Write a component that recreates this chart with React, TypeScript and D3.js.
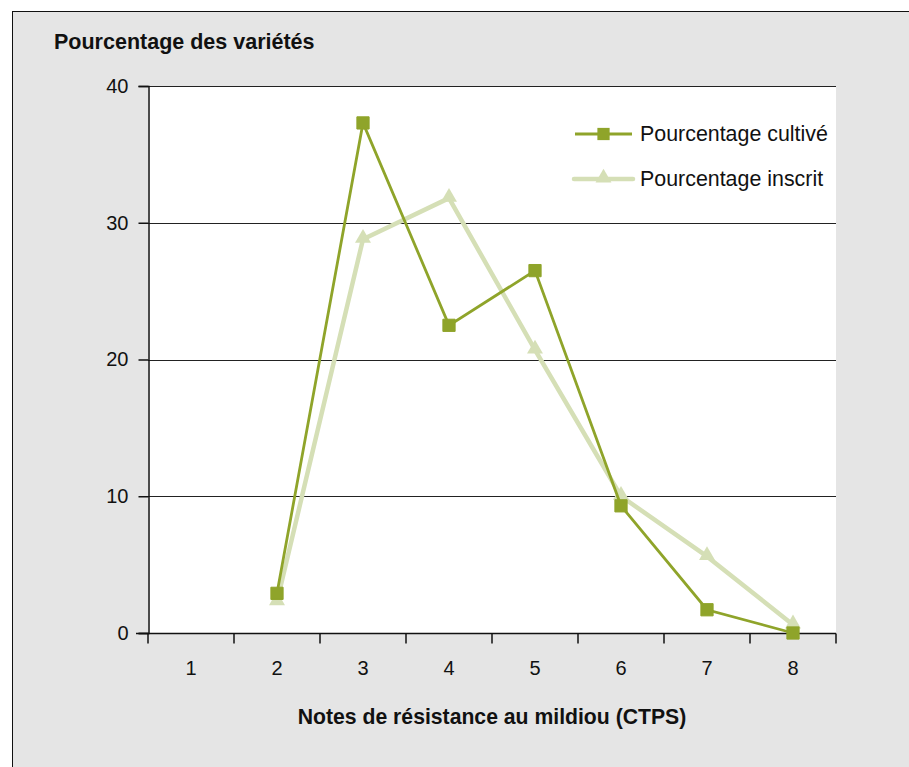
import { useEffect, useRef } from 'react'
import * as d3 from 'd3'

const categories = ['1', '2', '3', '4', '5', '6', '7', '8']
const cultive: (number | null)[] = [null, 2.9, 37.3, 22.5, 26.5, 9.3, 1.7, 0]
const inscrit: (number | null)[] = [null, 2.3, 28.8, 31.8, 20.7, 10.0, 5.6, 0.6]
const yTicks = [0, 10, 20, 30, 40]
const seriesNames = ['Pourcentage cultivé', 'Pourcentage inscrit']

const WIDTH = 909
const HEIGHT = 767
const FONT = '"Liberation Sans", Arial, Helvetica, sans-serif'
const DARK = '#8fa42a'
const LIGHT = '#d5dfb6'

export default function App() {
  const svgRef = useRef<SVGSVGElement>(null)

  useEffect(() => {
    if (!svgRef.current) return
    const svg = d3.select(svgRef.current)
    svg.selectAll('*').remove()

    const plot = { left: 148, right: 836, top: 86, bottom: 633 }

    // outer frame
    svg.append('rect')
      .attr('x', 12.5).attr('y', 11.5)
      .attr('width', WIDTH).attr('height', HEIGHT)
      .attr('fill', '#e5e5e5').attr('stroke', '#111').attr('stroke-width', 1)

    svg.append('rect')
      .attr('x', plot.left).attr('y', plot.top)
      .attr('width', plot.right - plot.left).attr('height', plot.bottom - plot.top)
      .attr('fill', '#fff')

    const x = d3.scaleBand<string>().domain(categories).range([plot.left, plot.right]).padding(0)
    const y = d3.scaleLinear().domain([0, 40]).range([plot.bottom, plot.top])

    // gridlines
    for (const t of yTicks.filter((t) => t > 0)) {
      svg.append('line')
        .attr('x1', plot.left).attr('x2', plot.right)
        .attr('y1', Math.round(y(t)) + 0.5).attr('y2', Math.round(y(t)) + 0.5)
        .attr('stroke', '#222').attr('stroke-width', 1.2)
    }

    // Y axis
    svg.append('g')
      .attr('transform', `translate(${plot.left + 0.5},0)`)
      .call(d3.axisLeft(y).tickValues(yTicks).tickSize(10).tickPadding(10).tickFormat(d3.format('d')))
      .call((g) => g.select('.domain').attr('stroke', '#111').attr('stroke-width', 1.5))
      .call((g) => g.selectAll('line').attr('stroke', '#111').attr('stroke-width', 1.5))
      .call((g) => g.selectAll('text').attr('fill', '#111').attr('font-size', '20px').attr('font-family', FONT))

    // X axis: ticks on band boundaries, labels centred
    const xg = svg.append('g').attr('transform', `translate(0,${plot.bottom + 0.5})`)
    xg.append('line')
      .attr('x1', plot.left - 12).attr('x2', plot.right)
      .attr('stroke', '#111').attr('stroke-width', 1.5)
    const bounds = [...categories.map((c) => x(c) as number), plot.right]
    xg.selectAll('line.tick')
      .data(bounds)
      .join('line')
      .attr('class', 'tick')
      .attr('x1', (d) => d).attr('x2', (d) => d)
      .attr('y1', 0).attr('y2', 10)
      .attr('stroke', '#111').attr('stroke-width', 1.5)
    xg.selectAll('text')
      .data(categories)
      .join('text')
      .attr('x', (d) => (x(d) as number) + x.bandwidth() / 2)
      .attr('y', 41)
      .attr('text-anchor', 'middle')
      .attr('font-family', FONT).attr('font-size', '20px').attr('fill', '#111')
      .text((d) => d)

    // series
    const pts = (vals: (number | null)[]) =>
      categories.map((c, i) => ({ c, v: vals[i] })).filter((d): d is { c: string; v: number } => d.v !== null)
    const line = d3.line<{ c: string; v: number }>()
      .x((d) => (x(d.c) as number) + x.bandwidth() / 2)
      .y((d) => y(d.v))

    const square = d3.symbol().type(d3.symbolSquare).size(150)
    const triangle = d3.symbol().type(d3.symbolTriangle).size(110)

    svg.append('path').datum(pts(inscrit))
      .attr('fill', 'none').attr('stroke', LIGHT).attr('stroke-width', 4.5)
      .attr('stroke-linejoin', 'round').attr('d', line)
    svg.selectAll('.tri').data(pts(inscrit)).join('path')
      .attr('class', 'tri')
      .attr('transform', (d) => `translate(${(x(d.c) as number) + x.bandwidth() / 2},${y(d.v) - 1})`)
      .attr('d', triangle).attr('fill', LIGHT)

    svg.append('path').datum(pts(cultive))
      .attr('fill', 'none').attr('stroke', DARK).attr('stroke-width', 2.8)
      .attr('d', line)
    svg.selectAll('.sq').data(pts(cultive)).join('path')
      .attr('class', 'sq')
      .attr('transform', (d) => `translate(${(x(d.c) as number) + x.bandwidth() / 2},${y(d.v)})`)
      .attr('d', square).attr('fill', DARK).attr('stroke', DARK).attr('stroke-width', 1).attr('stroke-linejoin', 'round')

    // legend
    const legend = svg.append('g')
    seriesNames.forEach((name, i) => {
      const ly = 134 + i * 45
      const light = i === 1
      legend.append('line')
        .attr('x1', light ? 574 : 575).attr('x2', light ? 633 : 632)
        .attr('y1', ly).attr('y2', ly)
        .attr('stroke', light ? LIGHT : DARK).attr('stroke-width', light ? 4.5 : 2.8)
        .attr('stroke-linecap', light ? 'round' : 'butt')
      legend.append('path')
        .attr('transform', `translate(603.5,${light ? ly - 1 : ly})`)
        .attr('d', light ? triangle : square)
        .attr('fill', light ? LIGHT : DARK)
      legend.append('text')
        .attr('x', 640).attr('y', ly + 7)
        .attr('font-family', FONT).attr('font-size', '21.4px').attr('fill', '#111')
        .text(name)
    })

    // titles
    svg.append('text')
      .attr('x', 54).attr('y', 49)
      .attr('font-family', FONT).attr('font-weight', 'bold').attr('font-size', '21.5px').attr('fill', '#111')
      .text('Pourcentage des variétés')

    svg.append('text')
      .attr('x', (plot.left + plot.right) / 2).attr('y', 724)
      .attr('text-anchor', 'middle')
      .attr('font-family', FONT).attr('font-weight', 'bold').attr('font-size', '21.2px').attr('fill', '#111')
      .text('Notes de résistance au mildiou (CTPS)')
  }, [])

  return (
    <svg
      ref={svgRef}
      width={WIDTH}
      height={HEIGHT}
      style={{ position: 'absolute', left: 0, top: 0, display: 'block', overflow: 'hidden' }}
    />
  )
}
